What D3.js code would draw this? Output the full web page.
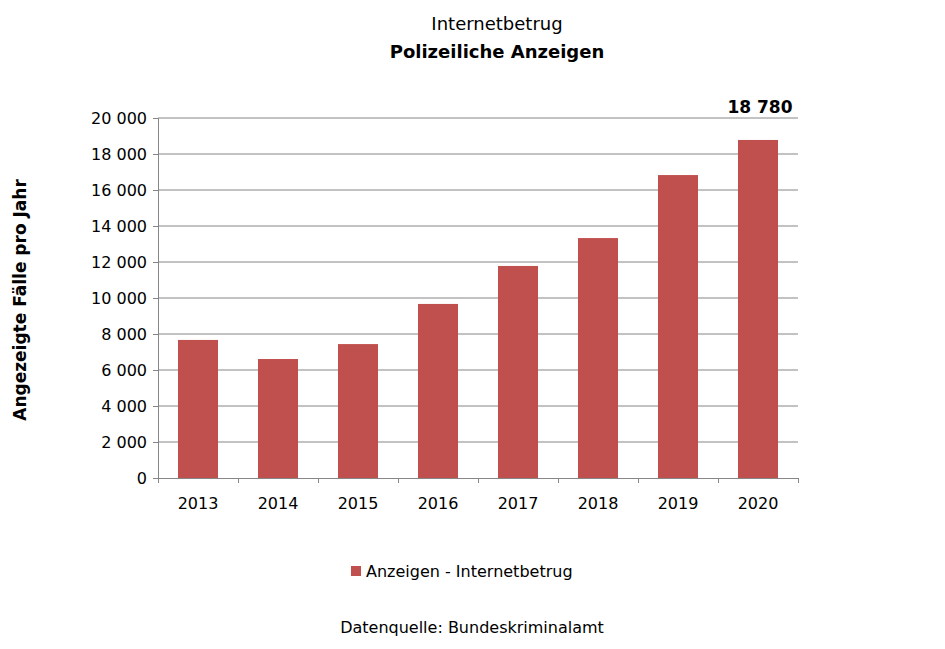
<!DOCTYPE html>
<html><head><meta charset="utf-8">
<script src="https://cdn.jsdelivr.net/npm/d3@7"></script>
<style>body{margin:0;background:#fff}text{font-family:"DejaVu Sans",sans-serif}</style>
</head><body><div id="chart"></div>
<script>
"use strict"
const years = ["2013","2014","2015","2016","2017","2018","2019","2020"];
const values = [7670,6610,7440,9670,11780,13330,16830,18780];
const yTicks = [0,2000,4000,6000,8000,10000,12000,14000,16000,18000,20000];

const WIDTH = 945, HEIGHT = 649;
const svg = d3.select("#chart").append("svg").attr("width", WIDTH).attr("height", HEIGHT);
const fmt = v => d3.format(",")(v).replace(/,/g, "\u2009".replace("\u2009"," "));

const x = d3.scaleBand().domain(years).range([158, 798]).paddingInner(0.5).paddingOuter(0.25);
const y = d3.scaleLinear().domain([0, 20000]).range([478, 118]);

// grid
svg.selectAll(".grid").data(yTicks.slice(1)).enter().append("line")
	.attr("x1", 158).attr("x2", 798)
	.attr("y1", d => y(d)).attr("y2", d => y(d))
	.attr("stroke", "#868686").attr("stroke-width", 1);

svg.selectAll(".bar").data(values).enter().append("rect")
	.attr("x", (d, i) => x(years[i])).attr("width", x.bandwidth())
	.attr("y", d => y(d)).attr("height", d => y(0) - y(d))
	.attr("fill", "#c0504d");

const yAxis = svg.append("g").attr("transform", "translate(158,0)")
	.call(d3.axisLeft(y).tickValues(yTicks).tickSize(5).tickFormat(fmt));
const xAxis = svg.append("g").attr("transform", "translate(0,478)")
	.call(d3.axisBottom(d3.scalePoint().domain(d3.range(9)).range([158, 798])).tickSize(5).tickFormat(""));
svg.append("g").attr("transform", "translate(0,478)")
	.call(d3.axisBottom(x).tickSize(0).tickPadding(20))
	.call(g => g.select(".domain").remove());
svg.selectAll(".domain, .tick line").attr("stroke", "#868686");
svg.selectAll(".tick text").attr("font-size", 16).attr("fill", "#000");
yAxis.selectAll(".tick text").attr("dx", -3);

// value label
svg.append("text").attr("x", x("2020") + x.bandwidth()/2 + 2).attr("y", 113)
	.attr("text-anchor", "middle").attr("font-size", 17).attr("font-weight", "bold").text(fmt(values[7]));

svg.append("text").attr("x", 497).attr("y", 30).attr("text-anchor", "middle").attr("font-size", 18).text("Internetbetrug");
svg.append("text").attr("x", 497).attr("y", 58).attr("text-anchor", "middle").attr("font-size", 18).attr("font-weight", "bold").text("Polizeiliche Anzeigen");

svg.append("text").attr("transform", "translate(26,300) rotate(-90)")
	.attr("text-anchor", "middle").attr("font-size", 17).attr("font-weight", "bold").text("Angezeigte Fälle pro Jahr");

svg.append("rect").attr("x", 351).attr("y", 566).attr("width", 10).attr("height", 10).attr("fill", "#c0504d");
svg.append("text").attr("x", 366).attr("y", 577).attr("font-size", 16).text("Anzeigen - Internetbetrug");

svg.append("text").attr("x", 472).attr("y", 633).attr("text-anchor", "middle").attr("font-size", 16).text("Datenquelle: Bundeskriminalamt");
</script></body></html>
